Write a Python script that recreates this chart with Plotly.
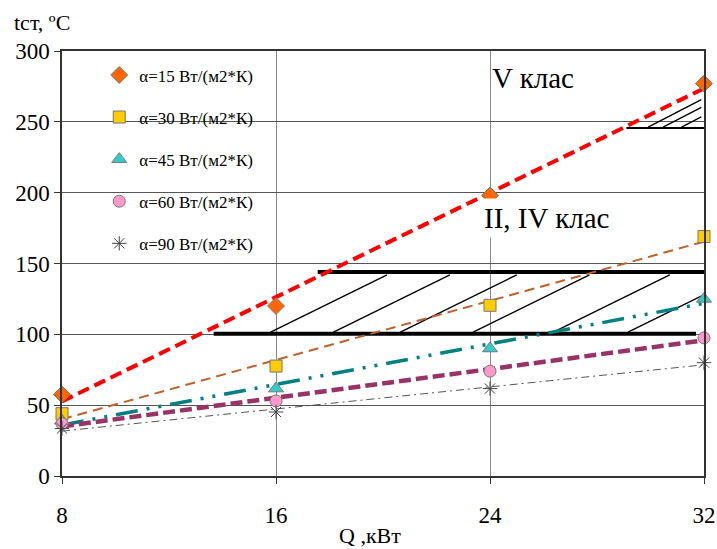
import numpy as np
import plotly.graph_objects as go

# ---- data ----
Q = [8, 16, 24, 32]
t15 = [57.5, 120, 198, 277]
t30 = [44, 77.6, 120.5, 169]
t45 = [39, 61.7, 90, 125]
t60 = [37, 53, 74, 97.5]
t90 = [33.5, 45.2, 61.7, 80]
names = ["α=15 Вт/(м2*К)", "α=30 Вт/(м2*К)", "α=45 Вт/(м2*К)",
         "α=60 Вт/(м2*К)", "α=90 Вт/(м2*К)"]

x_ticks = [8, 16, 24, 32]
y_ticks = [0, 50, 100, 150, 200, 250, 300]

# class zones (hatched areas)
zone24_lower_y = 100.5
zone24_lower_x = [13.67, 31.7]
zone24_upper_y = 144
zone24_upper_x = [17.56, 32.0]
zone24_diag_x0 = [15.8, 18.15, 20.65, 23.37, 26.37, 29.16]
zone24_diag_y = [101.5, 142.0]
zone24_diag_dx = 4.35

zone5_y = 245.6
zone5_x = [29.1, 32.2]
zone5_diag_x0 = [29.91, 30.47, 31.16]
zone5_diag_x1 = 31.9
zone5_diag_y0 = 246.3
zone5_diag_slope = 9.75

labels = [("V клас", 25.6, 280.7, "rgba(0,0,0,0)"),
          ("II, IV клас", 26.1, 182.0, "white")]

FONT = "Liberation Serif, Times New Roman, serif"

fig = go.Figure()

# hatch zones
def seg(x, y, w):
    fig.add_trace(go.Scatter(x=x, y=y, mode="lines", showlegend=False,
                             hoverinfo="skip",
                             line=dict(color="black", width=w)))

seg(zone24_lower_x, [zone24_lower_y] * 2, 4)
seg(zone24_upper_x, [zone24_upper_y] * 2, 4)
for x0 in zone24_diag_x0:
    seg([x0, x0 + zone24_diag_dx], zone24_diag_y, 1.4)
seg(zone5_x, [zone5_y] * 2, 2)
for x0 in zone5_diag_x0:
    seg([x0, zone5_diag_x1],
        [zone5_diag_y0, zone5_diag_y0 + zone5_diag_slope * (zone5_diag_x1 - x0)], 1.4)

series = [t15, t30, t45, t60, t90]
line_styles = [
    dict(color="#FF0000", width=4, dash="12px,6px"),
    dict(color="#C0602A", width=2, dash="10px,6px"),
    dict(color="#008080", width=3.5, dash="22px,9px,3px,9px,3px,9px"),
    dict(color="#993366", width=4.5, dash="12px,5px"),
    dict(color="#555555", width=1, dash="8px,4px,2px,4px"),
]
markers = [
    dict(symbol="diamond", color="#FF6600", size=13, line=dict(color="#777777", width=1)),
    dict(symbol="square", color="#FFCC00", size=12, line=dict(color="#777777", width=1)),
    dict(symbol="triangle-up", color="#33CCCC", size=13, line=dict(color="#777777", width=1)),
    dict(symbol="circle", color="#FF99CC", size=12, line=dict(color="#777777", width=1)),
    dict(symbol="asterisk-open", color="#444444", size=12, line=dict(color="#444444", width=1)),
]

xs = np.array(Q, dtype=float)
# linear trend lines
for ys, ls in zip(series, line_styles):
    k, b = np.polyfit(xs, np.array(ys, dtype=float), 1)
    fig.add_trace(go.Scatter(x=[xs[0], xs[-1]], y=[k * xs[0] + b, k * xs[-1] + b],
                             mode="lines", showlegend=False, hoverinfo="skip",
                             line=ls))

for i, (ys, mk, nm) in enumerate(zip(series, markers, names)):
    fig.add_trace(go.Scatter(x=Q, y=ys, mode="markers", name=nm,
                             legendgroup=f"g{i}", marker=mk, cliponaxis=False))

for txt, x, y, bg in labels:
    fig.add_annotation(x=x, y=y, text=txt, showarrow=False, bgcolor=bg, borderpad=3,
                       font=dict(family=FONT, size=29, color="black"))

fig.add_annotation(xref="paper", yref="paper", x=-0.078, y=1.067, xanchor="left",
                   yanchor="middle", text="tст, ºС", showarrow=False,
                   font=dict(family=FONT, size=22, color="black"))
fig.add_annotation(xref="paper", yref="paper", x=0.48, y=-0.14, xanchor="center",
                   yanchor="middle", text="Q ,кВт", showarrow=False,
                   font=dict(family=FONT, size=22, color="black"))

fig.update_layout(
    width=717, height=549,
    margin=dict(l=62, r=13, t=51, b=73),
    paper_bgcolor="white", plot_bgcolor="white",
    font=dict(family=FONT, size=22, color="black"),
    showlegend=True,
    legend=dict(x=0.058, y=0.985, xanchor="left", yanchor="top",
                bgcolor="rgba(0,0,0,0)", borderwidth=0,
                font=dict(family=FONT, size=17, color="black"),
                tracegroupgap=17, itemwidth=30),
    xaxis=dict(range=[8, 32], tickvals=x_ticks, ticktext=[str(v) for v in x_ticks],
               showgrid=True, gridcolor="#888888", gridwidth=1,
               showline=True, linecolor="#333333", linewidth=1.5, mirror=True,
               ticks="outside", ticklen=6, tickcolor="#333333",
               ticklabelstandoff=12, zeroline=False, automargin=False,
               tickfont=dict(family=FONT, size=23)),
    yaxis=dict(range=[0, 300], tickvals=y_ticks, ticktext=[str(v) for v in y_ticks],
               showgrid=True, gridcolor="#555555", gridwidth=1,
               showline=True, linecolor="#333333", linewidth=1.5, mirror=True,
               ticks="outside", ticklen=6, tickcolor="#333333",
               zeroline=False, automargin=False,
               tickfont=dict(family=FONT, size=23)),
)

fig.write_html("out.html", config={"displayModeBar": False},
               post_script="document.body.style.margin='0';")
